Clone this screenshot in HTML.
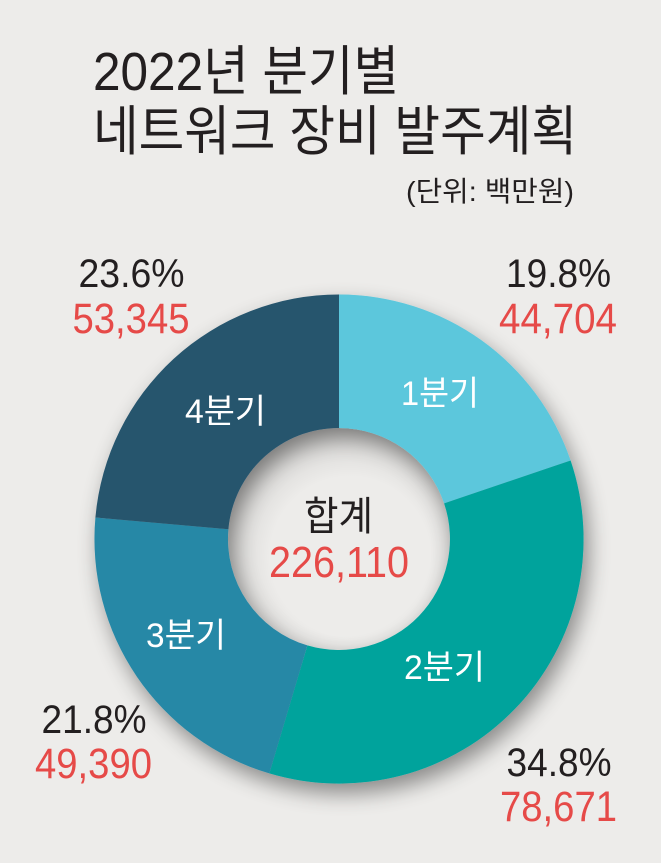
<!DOCTYPE html>
<html>
<head>
<meta charset="utf-8">
<style>
html,body{margin:0;padding:0;background:#EDECEA;}
svg{display:block;}
text{font-family:"Liberation Sans","Noto Sans CJK KR",sans-serif;}
</style>
</head>
<body>
<svg width="661" height="863" viewBox="0 0 661 863" xmlns="http://www.w3.org/2000/svg">
  <defs>
    <filter id="sh" x="-30%" y="-30%" width="160%" height="160%">
      <feGaussianBlur in="SourceAlpha" stdDeviation="11"/>
      <feOffset dx="5" dy="10" result="b"/>
      <feComponentTransfer><feFuncA type="linear" slope="0.42"/></feComponentTransfer>
      <feMerge><feMergeNode/><feMergeNode in="SourceGraphic"/></feMerge>
    </filter>
    <radialGradient id="hole" cx="0.55" cy="0.58" r="0.6">
      <stop offset="0.6" stop-color="#000" stop-opacity="0"/>
      <stop offset="1" stop-color="#000" stop-opacity="0.12"/>
    </radialGradient>
  </defs>
  <rect width="661" height="863" fill="#EDECEA"/>

  <circle cx="339" cy="539" r="111" fill="url(#hole)"/>

  <g filter="url(#sh)">
    <path d="M339,294.5 A244.5,244.5 0 0 1 570.6,460.5 L444.1,503.4 A111,111 0 0 0 339,428 Z" fill="#5BC7DC"/>
    <path d="M570.6,460.5 A244.5,244.5 0 0 1 269.3,773.4 L307.4,645.4 A111,111 0 0 0 444.1,503.4 Z" fill="#00A39C"/>
    <path d="M269.3,773.4 A244.5,244.5 0 0 1 95.4,517.5 L228.4,529.25 A111,111 0 0 0 307.4,645.4 Z" fill="#2888A6"/>
    <path d="M95.4,517.5 A244.5,244.5 0 0 1 339,294.5 L339,428 A111,111 0 0 0 228.4,529.25 Z" fill="#27546D"/>
  </g>

  <!-- Title -->
  <text x="93" y="90" font-size="54" fill="#231F20" textLength="306" lengthAdjust="spacingAndGlyphs">2022년 분기별</text>
  <text x="93" y="150" font-size="54" fill="#231F20" textLength="484" lengthAdjust="spacingAndGlyphs">네트워크 장비 발주계획</text>
  <text x="406" y="201" font-size="28" fill="#231F20" textLength="168" lengthAdjust="spacingAndGlyphs">(단위: 백만원)</text>

  <!-- Outer labels -->
  <text x="506" y="287" font-size="40" fill="#231F20" textLength="105" lengthAdjust="spacingAndGlyphs">19.8%</text>
  <text x="499" y="333" font-size="43" fill="#E64A48" textLength="118" lengthAdjust="spacingAndGlyphs">44,704</text>

  <text x="78.5" y="287" font-size="40" fill="#231F20" textLength="106" lengthAdjust="spacingAndGlyphs">23.6%</text>
  <text x="72.5" y="333" font-size="43" fill="#E64A48" textLength="117" lengthAdjust="spacingAndGlyphs">53,345</text>

  <text x="41.5" y="733" font-size="40" fill="#231F20" textLength="105" lengthAdjust="spacingAndGlyphs">21.8%</text>
  <text x="35" y="778" font-size="43" fill="#E64A48" textLength="117" lengthAdjust="spacingAndGlyphs">49,390</text>

  <text x="506.5" y="776" font-size="40" fill="#231F20" textLength="105" lengthAdjust="spacingAndGlyphs">34.8%</text>
  <text x="500" y="821" font-size="43" fill="#E64A48" textLength="117" lengthAdjust="spacingAndGlyphs">78,671</text>

  <!-- Segment labels -->
  <text x="401" y="405" font-size="34" fill="#FFFFFF" textLength="78" lengthAdjust="spacingAndGlyphs">1분기</text>
  <text x="185" y="423" font-size="34" fill="#FFFFFF" textLength="81" lengthAdjust="spacingAndGlyphs">4분기</text>
  <text x="146" y="647" font-size="34" fill="#FFFFFF" textLength="80" lengthAdjust="spacingAndGlyphs">3분기</text>
  <text x="404" y="679" font-size="34" fill="#FFFFFF" textLength="81" lengthAdjust="spacingAndGlyphs">2분기</text>

  <!-- Center -->
  <text x="304" y="530" font-size="40" fill="#231F20" textLength="69" lengthAdjust="spacingAndGlyphs">합계</text>
  <text x="269" y="577" font-size="44" fill="#E64A48" textLength="140" lengthAdjust="spacingAndGlyphs">226,110</text>
</svg>
</body>
</html>
